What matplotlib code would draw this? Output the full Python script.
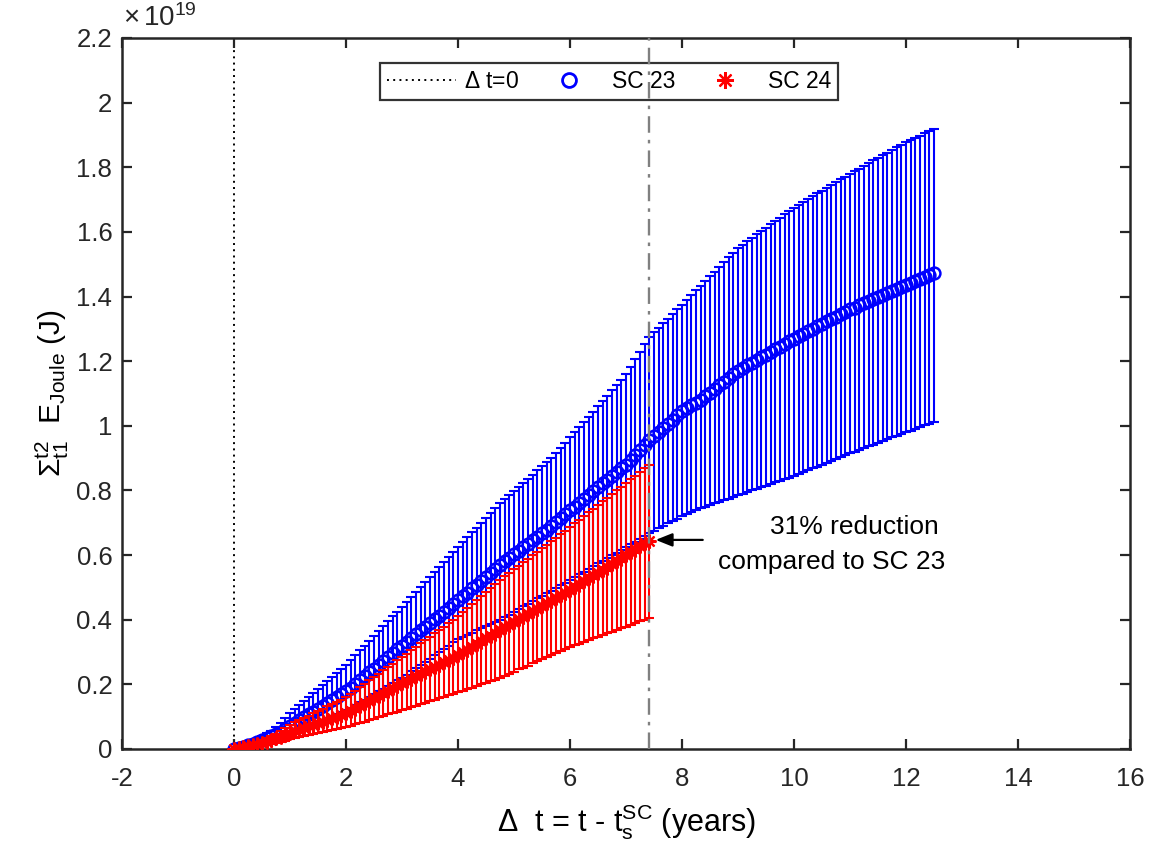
import numpy as np
import matplotlib
matplotlib.use("Agg")
import matplotlib.pyplot as plt
from matplotlib.lines import Line2D
from matplotlib.ticker import FuncFormatter

# ---------------- data (energy in units of 1e19 J, monthly samples) ----------------
sc23_months = list(range(151))
sc24_months = list(range(90))

sc23_mean = [
    0.000, 0.003, 0.007, 0.011, 0.016, 0.021, 0.027, 0.033, 0.039, 0.046, 0.053, 0.062, 0.072,
    0.081, 0.090, 0.099, 0.107, 0.116, 0.125, 0.134, 0.143, 0.152, 0.160, 0.169, 0.178,
    0.190, 0.202, 0.213, 0.225, 0.237, 0.249, 0.261, 0.273, 0.284, 0.296, 0.308, 0.320,
    0.332, 0.343, 0.355, 0.367, 0.378, 0.390, 0.402, 0.413, 0.425, 0.437, 0.448, 0.460,
    0.472, 0.484, 0.497, 0.509, 0.521, 0.533, 0.546, 0.558, 0.570,
    0.581, 0.592, 0.603, 0.614, 0.625, 0.635, 0.646, 0.657, 0.668, 0.679, 0.690,
    0.702, 0.714, 0.726, 0.738, 0.750, 0.762, 0.774, 0.786, 0.798, 0.810,
    0.822, 0.833, 0.845, 0.857, 0.868, 0.880,
    0.895, 0.910, 0.925, 0.940, 0.955,
    0.968, 0.981, 0.994, 1.006, 1.019, 1.032, 1.045,
    1.054, 1.063, 1.071, 1.080,
    1.091, 1.103, 1.114, 1.125, 1.136, 1.148, 1.159, 1.170,
    1.178, 1.187, 1.195, 1.203, 1.212, 1.220, 1.228, 1.237, 1.245, 1.253, 1.262, 1.270,
    1.278, 1.285, 1.293, 1.300, 1.308, 1.315, 1.323, 1.330, 1.338, 1.345, 1.353, 1.360,
    1.366, 1.373, 1.379, 1.385, 1.391, 1.398, 1.404, 1.410, 1.416, 1.423, 1.429, 1.435,
    1.441, 1.447, 1.453, 1.460, 1.466, 1.472]

sc23_upper = [
    0.000, 0.005, 0.011, 0.017, 0.024, 0.031, 0.039, 0.048, 0.057, 0.068, 0.080, 0.095, 0.110,
    0.123, 0.135, 0.148, 0.160, 0.173, 0.185, 0.198, 0.210, 0.223, 0.235, 0.248, 0.260,
    0.275, 0.290, 0.305, 0.320, 0.335, 0.350, 0.365, 0.380, 0.395, 0.410, 0.425, 0.440,
    0.455, 0.471, 0.486, 0.502, 0.517, 0.533, 0.548, 0.563, 0.579, 0.594, 0.610, 0.625,
    0.640, 0.655, 0.670, 0.685, 0.700, 0.715, 0.730, 0.745, 0.760,
    0.773, 0.785, 0.798, 0.811, 0.824, 0.836, 0.849, 0.862, 0.875, 0.887, 0.900,
    0.916, 0.932, 0.948, 0.964, 0.980, 0.996, 1.012, 1.028, 1.044, 1.060,
    1.077, 1.093, 1.110, 1.127, 1.143, 1.160,
    1.183, 1.206, 1.229, 1.252, 1.275,
    1.289, 1.304, 1.318, 1.332, 1.346, 1.361, 1.375,
    1.390, 1.404, 1.419, 1.433, 1.448, 1.463, 1.477, 1.492, 1.506, 1.521, 1.535, 1.550,
    1.560, 1.571, 1.581, 1.592, 1.602, 1.613, 1.623, 1.633, 1.644, 1.654, 1.665, 1.675,
    1.684, 1.693, 1.701, 1.710, 1.719, 1.728, 1.736, 1.745, 1.754, 1.763, 1.771, 1.780,
    1.788, 1.796, 1.805, 1.813, 1.821, 1.829, 1.837, 1.845, 1.854, 1.862, 1.870, 1.878,
    1.885, 1.891, 1.898, 1.905, 1.911, 1.918]

sc23_lower = [
    0.000, 0.002, 0.004, 0.006, 0.009, 0.012, 0.015, 0.019, 0.023, 0.027, 0.032, 0.038, 0.045,
    0.051, 0.058, 0.064, 0.070, 0.076, 0.083, 0.089, 0.095, 0.101, 0.108, 0.114, 0.120,
    0.128, 0.137, 0.145, 0.153, 0.162, 0.170, 0.178, 0.187, 0.195, 0.203, 0.212, 0.220,
    0.230, 0.240, 0.250, 0.260, 0.270, 0.280, 0.290, 0.300, 0.310, 0.320, 0.330, 0.340,
    0.347, 0.353, 0.360, 0.367, 0.373, 0.380, 0.387, 0.393, 0.400,
    0.408, 0.416, 0.425, 0.433, 0.441, 0.449, 0.457, 0.466, 0.474, 0.482, 0.490, 0.498, 0.507, 0.515, 0.523,
    0.532, 0.540, 0.549, 0.557, 0.566, 0.574, 0.583, 0.591, 0.600, 0.608, 0.617, 0.625, 0.634, 0.642, 0.651, 0.659, 0.668,
    0.675, 0.683, 0.690, 0.698, 0.705, 0.713, 0.720,
    0.726, 0.733, 0.739, 0.745,
    0.750, 0.755, 0.760, 0.765, 0.770, 0.775, 0.780, 0.785,
    0.790, 0.795, 0.800, 0.805, 0.810, 0.815, 0.820, 0.825, 0.830, 0.835, 0.840, 0.845,
    0.851, 0.857, 0.862, 0.868, 0.874, 0.880, 0.886, 0.892, 0.897, 0.903, 0.909, 0.915,
    0.920, 0.926, 0.931, 0.937, 0.942, 0.947, 0.953, 0.958, 0.964, 0.969, 0.975, 0.980,
    0.985, 0.991, 0.996, 1.001, 1.007, 1.012]

sc24_mean = [
    0.000, 0.002, 0.005, 0.008, 0.011, 0.015, 0.019, 0.023, 0.028, 0.033, 0.038, 0.044, 0.050,
    0.055, 0.060, 0.065, 0.070, 0.075, 0.080, 0.085, 0.090, 0.095, 0.100, 0.105, 0.110,
    0.118, 0.126, 0.134, 0.141, 0.149, 0.157, 0.165, 0.173, 0.181, 0.188, 0.196, 0.204,
    0.211, 0.218, 0.226, 0.233, 0.240, 0.247, 0.254, 0.261, 0.269, 0.276, 0.283, 0.290,
    0.299, 0.307, 0.316, 0.325, 0.333, 0.342, 0.351, 0.359, 0.368,
    0.376, 0.385, 0.393, 0.401, 0.409, 0.418, 0.426, 0.434, 0.442, 0.451, 0.459, 0.467, 0.475, 0.484, 0.492,
    0.501, 0.510, 0.519, 0.528, 0.537, 0.546, 0.555, 0.564, 0.573, 0.582, 0.591, 0.600, 0.609, 0.618, 0.627, 0.636, 0.645]

sc24_upper = [
    0.000, 0.003, 0.007, 0.011, 0.016, 0.021, 0.027, 0.033, 0.040, 0.047, 0.055, 0.065, 0.075,
    0.082, 0.089, 0.096, 0.103, 0.110, 0.118, 0.125, 0.132, 0.139, 0.146, 0.153, 0.160,
    0.170, 0.181, 0.191, 0.202, 0.212, 0.223, 0.233, 0.243, 0.254, 0.264, 0.275, 0.285,
    0.295, 0.306, 0.316, 0.327, 0.337, 0.348, 0.358, 0.368, 0.379, 0.389, 0.400, 0.410,
    0.423, 0.435, 0.448, 0.460, 0.473, 0.485, 0.498, 0.510, 0.523,
    0.534, 0.545, 0.556, 0.567, 0.578, 0.589, 0.600, 0.610, 0.621, 0.632, 0.643, 0.654, 0.665, 0.676, 0.687,
    0.698, 0.710, 0.721, 0.732, 0.744, 0.755, 0.766, 0.777, 0.789, 0.800, 0.811, 0.823, 0.834, 0.845, 0.857, 0.868, 0.879]

sc24_lower = [
    0.000, 0.001, 0.003, 0.005, 0.007, 0.009, 0.011, 0.014, 0.016, 0.019, 0.022, 0.026, 0.030,
    0.033, 0.036, 0.040, 0.043, 0.046, 0.049, 0.052, 0.055, 0.058, 0.062, 0.065, 0.068,
    0.072, 0.077, 0.081, 0.085, 0.090, 0.094, 0.098, 0.103, 0.107, 0.111, 0.116, 0.120,
    0.125, 0.129, 0.134, 0.138, 0.143, 0.148, 0.152, 0.157, 0.161, 0.166, 0.170, 0.175,
    0.180, 0.185, 0.190, 0.195, 0.200, 0.205, 0.210, 0.215, 0.220,
    0.226, 0.233, 0.239, 0.246, 0.252, 0.258, 0.265, 0.271, 0.278, 0.284, 0.290, 0.297, 0.303, 0.310, 0.316,
    0.321, 0.326, 0.332, 0.337, 0.342, 0.347, 0.353, 0.358, 0.363, 0.368, 0.374, 0.379, 0.384, 0.389, 0.395, 0.400, 0.405]

x_ticks = [-2, 0, 2, 4, 6, 8, 10, 12, 14, 16]
y_ticks = [0, 0.2, 0.4, 0.6, 0.8, 1.0, 1.2, 1.4, 1.6, 1.8, 2.0, 2.2]
legend_labels = [r'$\Delta$ t=0', 'SC 23', 'SC 24']
marker_dt = 89 / 12.0   # end of SC 24 record (years)
annot_line1 = '31% reduction'
annot_line2 = 'compared to SC 23'

# ---------------- style ----------------
plt.rcParams['font.family'] = ['Liberation Sans', 'DejaVu Sans']
plt.rcParams['mathtext.fontset'] = 'custom'
plt.rcParams['mathtext.rm'] = 'Liberation Sans'
plt.rcParams['mathtext.it'] = 'Liberation Sans:italic'
plt.rcParams['mathtext.bf'] = 'Liberation Sans:bold'

AX_COL = (0.15, 0.15, 0.15)
ASTER = (8, 2, 0)
BLUE = '#0000ff'
RED = '#ff0000'

fig = plt.figure(figsize=(11.51, 8.57), dpi=100)
ax = fig.add_axes([122 / 1151, 1 - 749 / 857, 1008 / 1151, 711 / 857])

x23 = np.array(sc23_months) / 12.0
x24 = np.array(sc24_months) / 12.0
m23, u23, l23 = map(np.array, (sc23_mean, sc23_upper, sc23_lower))
m24, u24, l24 = map(np.array, (sc24_mean, sc24_upper, sc24_lower))

ax.axvline(0, color='k', linestyle=(0, (1, 2.2)), linewidth=1.4, zorder=1)

ax.errorbar(x23, m23, yerr=[m23 - l23, u23 - m23], fmt='none', ecolor=BLUE,
            elinewidth=1.5, capsize=3.5, capthick=1.5, zorder=2)
ax.plot(x23, m23, linestyle='none', marker='o', mfc='none', mec=BLUE,
        ms=8.5, mew=1.8, zorder=2.1)
ax.errorbar(x24, m24, yerr=[m24 - l24, u24 - m24], fmt='none', ecolor=RED,
            elinewidth=1.5, capsize=3.5, capthick=1.5, zorder=3)
ax.plot(x24, m24, linestyle='none', marker=ASTER, color=RED, mec=RED,
        ms=10, mew=1.6, zorder=3.1)

ax.axvline(marker_dt, color=(0.5, 0.5, 0.5), linestyle=(0, (7, 3, 1.5, 3)),
           linewidth=1.7, zorder=10)

ax.set_xlim(-2, 16)
ax.set_ylim(0, 2.2)
ax.set_xticks(x_ticks)
ax.set_yticks(y_ticks)
ax.yaxis.set_major_formatter(FuncFormatter(lambda v, p: '%g' % round(v, 4)))
ax.xaxis.set_major_formatter(FuncFormatter(lambda v, p: '%g' % v))

ax.tick_params(direction='in', length=7.5, width=1.6, colors=AX_COL,
               labelsize=18.5, top=True, right=True, pad=7)
ax.tick_params(axis='x', pad=13)
for s in ax.spines.values():
    s.set_linewidth(1.8)
    s.set_color(AX_COL)

ax.text(0.001, 1.008, r'$\times\,10^{19}$', transform=ax.transAxes,
        ha='left', va='bottom', fontsize=20, color=AX_COL)

ax.set_xlabel(r'$\Delta$  t = t - t$_{\mathrm{s}}^{\mathrm{SC}}$ (years)', fontsize=22, labelpad=8)
ax.set_ylabel(r'$\Sigma_{\mathrm{t1}}^{\mathrm{t2}}$  E$_{\mathrm{Joule}}$ (J)', fontsize=21.5, labelpad=4)

handles = [
    Line2D([], [], color='k', linestyle=(0, (1, 2.2)), linewidth=1.4),
    Line2D([], [], linestyle='none', marker='o', mfc='none', mec=BLUE, ms=10, mew=2.0),
    Line2D([], [], linestyle='none', marker=ASTER, mec=RED, color=RED, ms=12, mew=1.6),
]
leg = ax.legend(handles, legend_labels, ncol=3, loc='upper center',
                bbox_to_anchor=(0.4831, 0.9648), borderaxespad=0.0,
                fontsize=16.5, frameon=True,
                fancybox=False, edgecolor='k', handlelength=3.0,
                handletextpad=0.35, columnspacing=0.7, borderpad=0.3)
leg.get_frame().set_linewidth(1.6)
leg.set_zorder(5)

ax.annotate('', xy=(7.48, 0.647), xytext=(8.42, 0.647),
            arrowprops=dict(arrowstyle='-|>,head_length=1.0,head_width=0.4',
                            color='k', lw=1.6))
ax.text(11.07, 0.687, annot_line1, ha='center', va='center', fontsize=19)
ax.text(10.68, 0.579, annot_line2, ha='center', va='center', fontsize=19)

fig.savefig('out.png', dpi=100)
